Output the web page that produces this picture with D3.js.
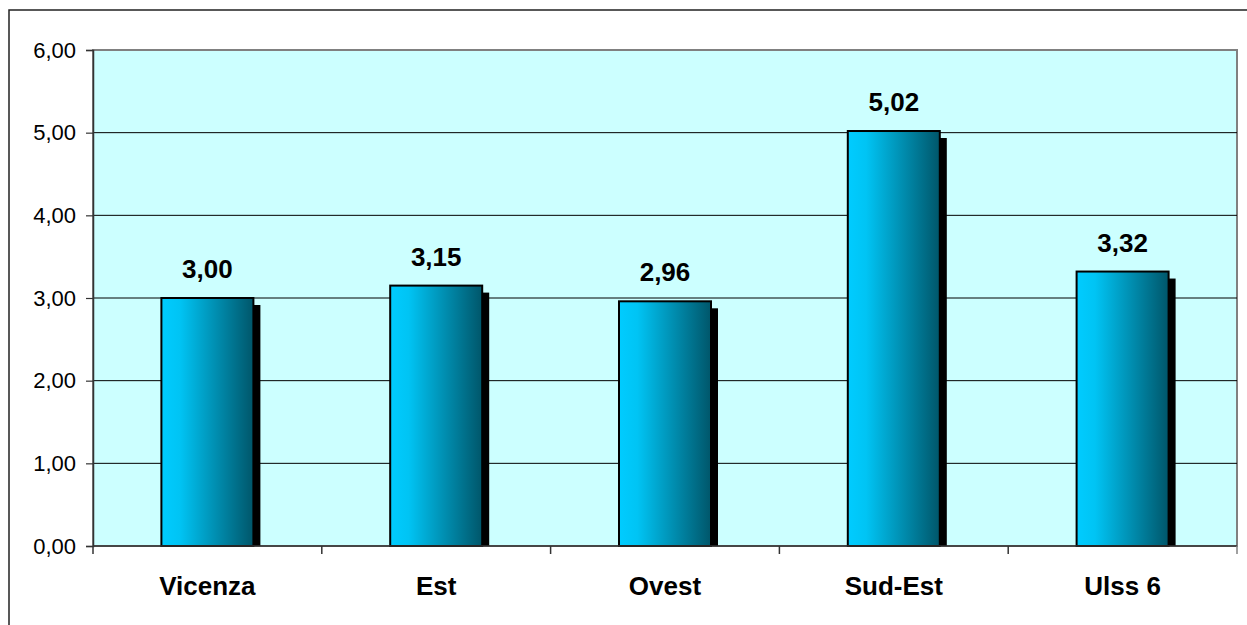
<!DOCTYPE html>
<html><head><meta charset="utf-8">
<script src="https://cdn.jsdelivr.net/npm/d3@7"></script>
<style>body{margin:0;background:#fff;} svg{display:block;}</style>
</head><body>
<script>
const categories = ["Vicenza", "Est", "Ovest", "Sud-Est", "Ulss 6"];
const values = [3.00, 3.15, 2.96, 5.02, 3.32];
const yTicks = [0, 1, 2, 3, 4, 5, 6];

const W = 1247, H = 625;
const m = {left: 93, top: 50, right: 1237, bottom: 546};
const fmt = v => v.toFixed(2).replace(".", ",");

const svg = d3.select("body").append("svg").attr("width", W).attr("height", H);
const defs = svg.append("defs");
const g = defs.append("linearGradient").attr("id", "barGrad").attr("x1", "0").attr("x2", "1").attr("y1", "0").attr("y2", "0");
g.append("stop").attr("offset", "0").attr("stop-color", "#00CCFF");
g.append("stop").attr("offset", "0.2").attr("stop-color", "#00C4F4");
g.append("stop").attr("offset", "1").attr("stop-color", "#00566A");

// outer chart border
svg.append("rect").attr("x", 9).attr("y", 10).attr("width", W + 20).attr("height", H + 20)
  .attr("fill", "#fff").attr("stroke", "#222").attr("stroke-width", 1.5);

const x = d3.scaleBand().domain(categories).range([m.left, m.right]).paddingInner(0).paddingOuter(0);
const y = d3.scaleLinear().domain([0, 6]).range([m.bottom, m.top]);

// plot area
svg.append("rect").attr("x", m.left).attr("y", m.top).attr("width", m.right - m.left).attr("height", m.bottom - m.top)
  .attr("fill", "#CCFFFF").attr("stroke", "#808080").attr("stroke-width", 2);

// gridlines
svg.append("g").selectAll("line").data(yTicks.filter(t => t > 0 && t < 6)).join("line")
  .attr("x1", m.left).attr("x2", m.right).attr("y1", d => y(d)).attr("y2", d => y(d))
  .attr("stroke", "#000").attr("stroke-width", 1);

// y axis
const ya = svg.append("g").attr("transform", `translate(${m.left},0)`)
  .call(d3.axisLeft(y).tickValues(yTicks).tickFormat(fmt).tickSize(7).tickPadding(10));
ya.select(".domain").attr("stroke", "#333").attr("stroke-width", 1.5);
ya.selectAll(".tick line").attr("stroke", "#333").attr("stroke-width", 1.2);
ya.selectAll("text").attr("font-family", "Liberation Sans, Arial, sans-serif").attr("font-size", 22).attr("fill", "#000");

// bars with shadow
const bw = 92;
const bars = svg.append("g");
bars.selectAll("rect.sh").data(values).join("rect").attr("class", "sh")
  .attr("x", (d, i) => x(categories[i]) + x.bandwidth() / 2 - bw / 2 + 7)
  .attr("y", d => y(d) + 7)
  .attr("width", bw).attr("height", d => m.bottom - y(d) - 7)
  .attr("fill", "#000");
bars.selectAll("rect.bar").data(values).join("rect").attr("class", "bar")
  .attr("x", (d, i) => x(categories[i]) + x.bandwidth() / 2 - bw / 2)
  .attr("y", d => y(d))
  .attr("width", bw).attr("height", d => m.bottom - y(d))
  .attr("fill", "url(#barGrad)").attr("stroke", "#000").attr("stroke-width", 2);

// x axis
svg.append("line").attr("x1", m.left).attr("x2", m.right).attr("y1", m.bottom).attr("y2", m.bottom)
  .attr("stroke", "#333").attr("stroke-width", 1.5);
const bounds = categories.map(c => x(c)).concat([m.right]);
svg.append("g").selectAll("line").data(bounds).join("line")
  .attr("x1", d => d).attr("x2", d => d).attr("y1", m.bottom).attr("y2", m.bottom + 8)
  .attr("stroke", (d, i) => i === bounds.length - 1 ? "#808080" : "#333").attr("stroke-width", 1.5);

svg.append("g").selectAll("text").data(categories).join("text")
  .attr("x", d => x(d) + x.bandwidth() / 2).attr("y", 595)
  .attr("text-anchor", "middle").attr("font-family", "Liberation Sans, Arial, sans-serif")
  .attr("font-weight", "bold").attr("font-size", 26).text(d => d);

// value labels
svg.append("g").selectAll("text").data(values).join("text")
  .attr("x", (d, i) => x(categories[i]) + x.bandwidth() / 2).attr("y", d => y(d) - 20)
  .attr("text-anchor", "middle").attr("font-family", "Liberation Sans, Arial, sans-serif")
  .attr("font-weight", "bold").attr("font-size", 26).text(d => fmt(d));
</script>
</body></html>
